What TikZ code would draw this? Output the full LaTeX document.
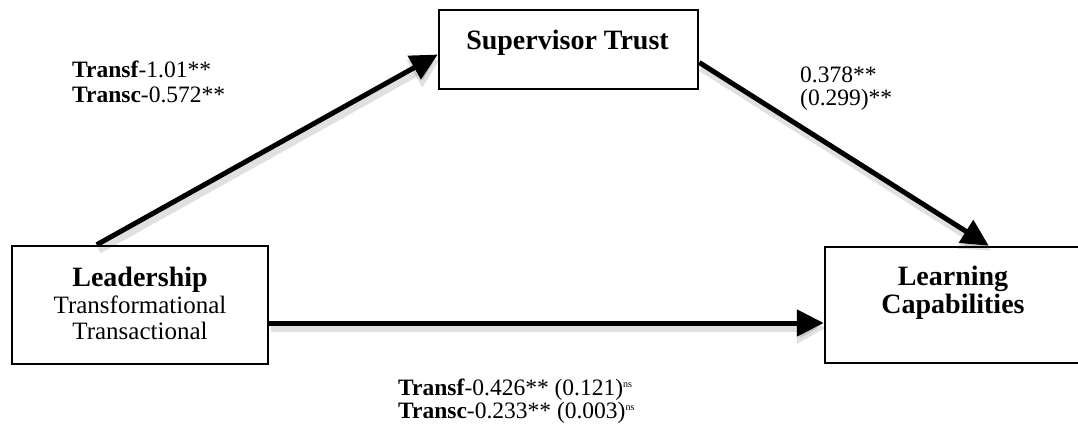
\documentclass[tikz,border=0pt]{standalone}
\usepackage{fontspec}
\setmainfont{Liberation Serif}
\usetikzlibrary{arrows.meta}
\newcommand{\nsmark}{\raisebox{8pt}{\fontsize{10}{10}\selectfont ns}}
\begin{document}
\begin{tikzpicture}[x=1pt,y=-1pt,
  box/.style={draw, line width=2.5pt, inner sep=0pt},
  head/.style={font=\fontsize{28}{32}\selectfont\bfseries, inner sep=0pt, anchor=base},
  sub/.style={font=\fontsize{25}{28}\selectfont, inner sep=0pt, anchor=base},
  lab/.style={font=\fontsize{23.5}{26}\selectfont, inner sep=0pt, anchor=base west},
  conn/.style={line width=5pt, -{Triangle[length=27pt,width=26pt]}},
  shade/.style={line width=8pt, black, opacity=0.12, -{Triangle[length=29pt,width=30pt]},
    transform canvas={shift={(2,5)}}}]
\useasboundingbox (0,0) rectangle (1078,430);
% boxes
\node[box, minimum width=259pt, minimum height=79pt] (st) at (568.5,49.5) {};
\node[box, minimum width=256pt, minimum height=118pt] (ld) at (140,305) {};
\node[box, minimum width=262pt, minimum height=116pt] (lc) at (956,305) {};
% box texts
\node[head] (stt) at (567.5,50) {Supervisor Trust};
\node[head] (ldt) at (140,287) {Leadership};
\node[sub] (ldt2) at (140,313) {Transformational};
\node[sub] (ldt3) at (140,339) {Transactional};
\node[head] (lct) at (953,285) {Learning};
\node[head] (lct2) at (953,313) {Capabilities};
% connector end points
\coordinate (a1s) at ([xshift=86pt]ld.north west);
\coordinate (a1e) at ([yshift=-5pt]st.west);
\coordinate (a2s) at ([yshift=-13pt]st.east);
\coordinate (a2e) at ([xshift=165pt]lc.north west);
\coordinate (a3s) at ([yshift=-18pt]ld.east);
\coordinate (a3e) at ([yshift=-18pt]lc.west);
% shadows
\draw[shade] (a1s) -- (a1e);
\draw[shade] (a2s) -- (a2e);
\draw[shade] (a3s) -- (a3e);
% connectors
\draw[conn] (a1s) -- (a1e);
\draw[conn] (a2s) -- (a2e);
\draw[conn] (a3s) -- (a3e);
% labels
\node[lab] (l1) at (72,78) {\textbf{Transf}-1.01**};
\node[lab] (l2) at (72,103) {\textbf{Transc}-0.572**};
\node[lab] (l3) at (800,83) {0.378**};
\node[lab] (l4) at (800,106) {(0.299)**};
\node[lab] (l5) at (398,395) {\textbf{Transf}-0.426** (0.121)\nsmark};
\node[lab] (l6) at (398,418) {\textbf{Transc}-0.233** (0.003)\nsmark};
\end{tikzpicture}
\end{document}
